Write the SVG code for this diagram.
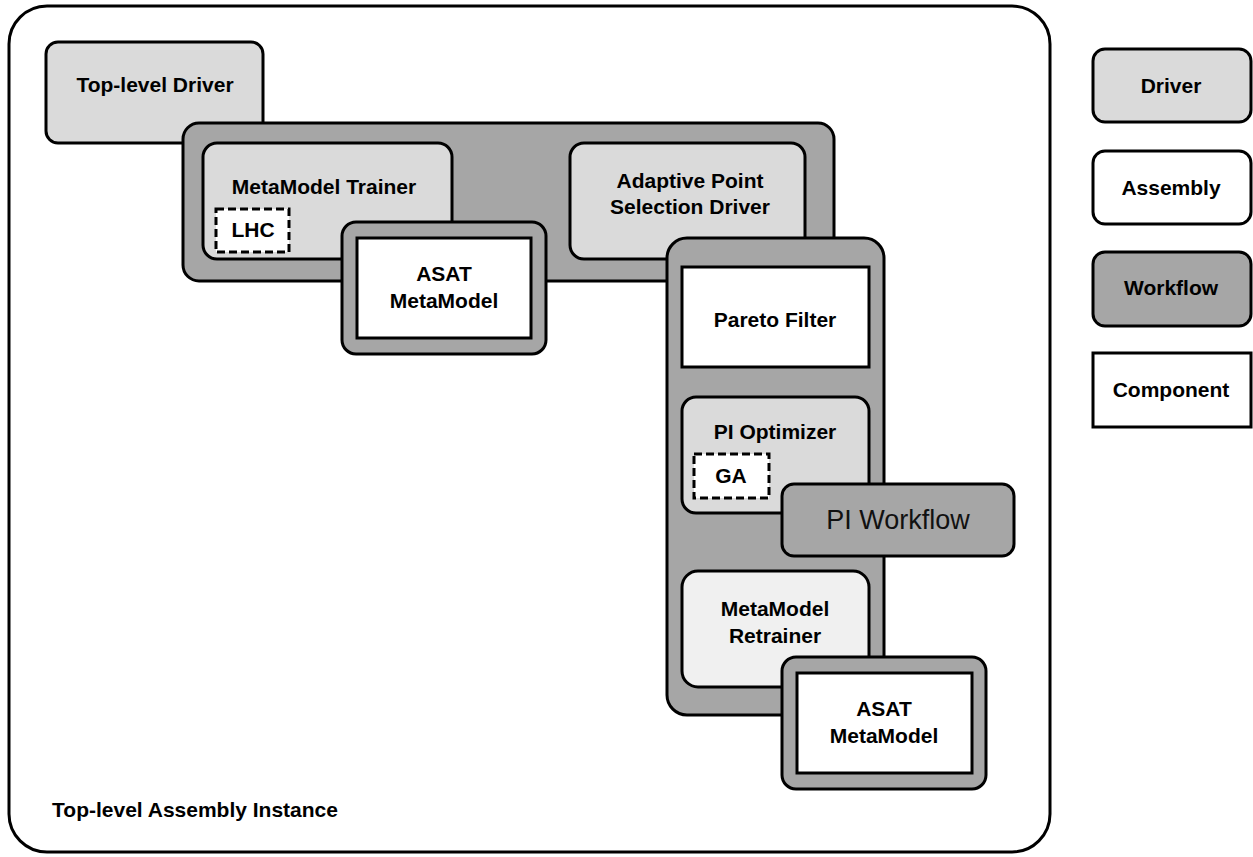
<svg xmlns="http://www.w3.org/2000/svg" width="1253" height="857" viewBox="0 0 1253 857">
<style>
  .t{font-family:"Liberation Sans",Arial,sans-serif;font-weight:bold;font-size:21px;fill:#000;text-anchor:middle}
  .tr{font-family:"Liberation Sans",Arial,sans-serif;font-size:27px;fill:#111;text-anchor:middle}
  .drv{fill:#dadada;stroke:#000;stroke-width:3}
  .wf{fill:#a6a6a6;stroke:#000;stroke-width:3}
  .asm{fill:#fff;stroke:#000;stroke-width:3}
  .cmp{fill:#fff;stroke:#000;stroke-width:3}
  .dash{fill:#fff;stroke:#000;stroke-width:3;stroke-dasharray:8 4}
  .rtr{fill:#f0f0f0;stroke:#000;stroke-width:3}
</style>
<rect width="1253" height="857" fill="#fff"/>
<g id="top-assembly">
  <rect x="9" y="6" width="1041" height="846" rx="38" fill="#fff" stroke="#000" stroke-width="3"/>
  <text class="t" x="195" y="817">Top-level Assembly Instance</text>
</g>
<g id="top-driver">
  <rect class="drv" x="46" y="42" width="217" height="101" rx="12"/>
  <text class="t" x="155" y="92">Top-level Driver</text>
</g>
<g id="workflow-main">
  <rect class="wf" x="183" y="123" width="651" height="158" rx="16"/>
</g>
<g id="metamodel-trainer">
  <rect class="drv" x="203" y="143" width="249" height="116" rx="14"/>
  <text class="t" x="324" y="194">MetaModel Trainer</text>
</g>
<g id="lhc">
  <rect class="dash" x="216" y="209" width="73" height="43"/>
  <text class="t" x="253" y="237">LHC</text>
</g>
<g id="asat-1">
  <rect class="wf" x="342" y="222" width="204" height="132" rx="14"/>
  <rect class="cmp" x="357" y="238" width="174" height="100"/>
  <text class="t" x="444" y="281">ASAT</text>
  <text class="t" x="444" y="308">MetaModel</text>
</g>
<g id="adaptive-driver">
  <rect class="drv" x="570" y="143" width="235" height="116" rx="14"/>
  <text class="t" x="690" y="188">Adaptive Point</text>
  <text class="t" x="690" y="214">Selection Driver</text>
</g>
<g id="pi-workflow-box">
  <rect class="wf" x="667" y="238" width="217" height="477" rx="20"/>
</g>
<g id="pareto-filter">
  <rect class="cmp" x="682" y="267" width="187" height="100"/>
  <text class="t" x="775" y="327">Pareto Filter</text>
</g>
<g id="pi-optimizer">
  <rect class="drv" x="682" y="397" width="187" height="116" rx="14"/>
  <text class="t" x="775" y="439">PI Optimizer</text>
</g>
<g id="ga">
  <rect class="dash" x="694" y="454" width="75" height="44"/>
  <text class="t" x="731" y="483">GA</text>
</g>
<g id="pi-workflow-label">
  <rect class="wf" x="782" y="484" width="232" height="72" rx="12"/>
  <text class="tr" x="898" y="529">PI Workflow</text>
</g>
<g id="metamodel-retrainer">
  <rect class="rtr" x="682" y="571" width="187" height="116" rx="16"/>
  <text class="t" x="775" y="616">MetaModel</text>
  <text class="t" x="775" y="643">Retrainer</text>
</g>
<g id="asat-2">
  <rect class="wf" x="782" y="657" width="204" height="132" rx="14"/>
  <rect class="cmp" x="797" y="673" width="175" height="100"/>
  <text class="t" x="884" y="716">ASAT</text>
  <text class="t" x="884" y="743">MetaModel</text>
</g>
<g id="legend-driver">
  <rect class="drv" x="1093" y="49" width="158" height="73" rx="12"/>
  <text class="t" x="1171" y="93">Driver</text>
</g>
<g id="legend-assembly">
  <rect class="asm" x="1093" y="151" width="158" height="73" rx="12"/>
  <text class="t" x="1171" y="195">Assembly</text>
</g>
<g id="legend-workflow">
  <rect class="wf" x="1093" y="252" width="158" height="74" rx="12"/>
  <text class="t" x="1171" y="295">Workflow</text>
</g>
<g id="legend-component">
  <rect class="cmp" x="1093" y="353" width="158" height="74"/>
  <text class="t" x="1171" y="397">Component</text>
</g>
<g id="connectors"></g>
</svg>
